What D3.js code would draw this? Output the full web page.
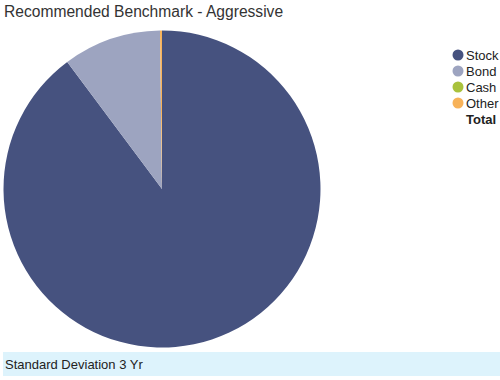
<!DOCTYPE html>
<html>
<head>
<meta charset="utf-8">
<script src="https://cdn.jsdelivr.net/npm/d3@7"></script>
<style>
  body { margin: 0; background: #fff; }
  svg { display: block; font-family: "Liberation Sans", Arial, sans-serif; }
</style>
</head>
<body>
<svg id="chart" width="500" height="380"></svg>
<script>
// data
const categories = ["Stock", "Bond", "Cash", "Other"]
const weights = [89.8, 10.0, 0, 0.2]
const colours = ["#46527f", "#9da4c0", "#a9c23c", "#f7b259"]
const legendExtra = "Total"
const title = "Recommended Benchmark - Aggressive"
const footer = "Standard Deviation 3 Yr"

let svg = d3.select("#chart")

svg.append("text")
    .attr("x", 4)
    .attr("y", 17)
    .style("font-size", "15.6px")
    .style("fill", "#333")
    .text(title)

let data = categories.map((c, i) => ({ name: c, value: weights[i], colour: colours[i] }))

let pie = d3.pie()
    .sort(null)
    .value(d => d.value)

let arc = d3.arc()
    .innerRadius(0)
    .outerRadius(158.5)

let pieG = svg.append("g")
    .attr("transform", "translate(162, 189)")

pieG.selectAll("path")
    .data(pie(data))
    .enter().append("path")
    .attr("d", arc)
    .attr("fill", d => d.data.colour)

// legend
let rowY = d3.scaleLinear().domain([0, 1]).range([55, 71])
let legend = svg.append("g")
legend.selectAll("circle")
    .data(data)
    .enter().append("circle")
    .attr("cx", 458)
    .attr("cy", (d, i) => rowY(i))
    .attr("r", 5.5)
    .attr("fill", d => d.colour)
legend.selectAll("text")
    .data(categories.concat([legendExtra]))
    .enter().append("text")
    .attr("x", 466)
    .attr("y", (d, i) => rowY(i) + 4.5)
    .style("font-size", "13px")
    .style("fill", "#222")
    .style("font-weight", d => d == legendExtra ? "bold" : "normal")
    .text(d => d)

// footer band
svg.append("rect")
    .attr("x", 3)
    .attr("y", 352)
    .attr("width", 497)
    .attr("height", 24)
    .attr("fill", "#ddf3fc")
svg.append("text")
    .attr("x", 5)
    .attr("y", 369)
    .style("font-size", "13px")
    .style("fill", "#222")
    .text(footer)
</script>
</body>
</html>
